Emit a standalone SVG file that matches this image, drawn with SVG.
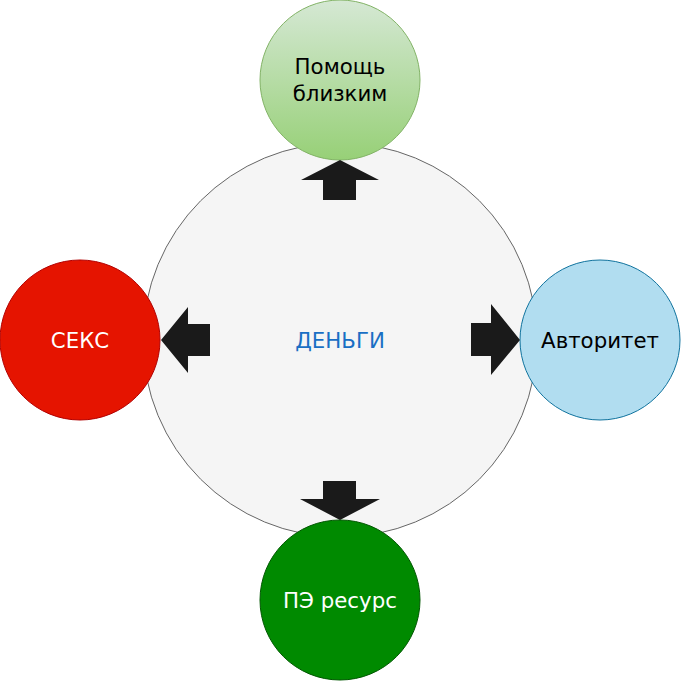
<svg xmlns="http://www.w3.org/2000/svg" width="681" height="681" viewBox="0 0 681 681">
<style>
text{font-family:"DejaVu Sans","Noto Sans",sans-serif;font-size:21.3px;text-anchor:middle}
.arr{fill:#1a1a1a;stroke:none}
</style>
<defs>
<linearGradient id="g1" x1="0" y1="0" x2="0" y2="1">
<stop offset="0" stop-color="#d5e8d4"/>
<stop offset="1" stop-color="#97d077"/>
</linearGradient>
</defs>
<rect width="681" height="681" fill="#ffffff"/>
<g id="money">
<circle cx="340" cy="340" r="197" fill="#f5f5f5" stroke="#666666" stroke-width="1"/>
<text x="340" y="348" fill="#1a6fc4">ДЕНЬГИ</text>
</g>
<g id="help">
<circle cx="340" cy="80" r="80" fill="url(#g1)" stroke="#82b366" stroke-width="1"/>
<text x="340" y="74" fill="#000000">Помощь</text>
<text x="340" y="101" fill="#000000">близким</text>
</g>
<g id="sex">
<circle cx="80" cy="340" r="80" fill="#e51400" stroke="#b20000" stroke-width="1"/>
<text x="80" y="348" fill="#ffffff">СЕКС</text>
</g>
<g id="authority">
<circle cx="600" cy="340" r="80" fill="#b1ddf0" stroke="#10739e" stroke-width="1"/>
<text x="600" y="348" fill="#000000">Авторитет</text>
</g>
<g id="pe">
<circle cx="340" cy="600" r="80" fill="#008a00" stroke="#005700" stroke-width="1"/>
<text x="340" y="608" fill="#ffffff">ПЭ ресурс</text>
</g>
<g id="connectors">
<polygon class="arr" points="340,160 379,180 356,180 356,200 323,200 323,180 301,180"/>
<polygon class="arr" points="161,340 188,307 188,324 210,324 210,356 188,356 188,373"/>
<polygon class="arr" points="520,340 491,304 491,323 471,323 471,356 491,356 491,375"/>
<polygon class="arr" points="340,520 380,499 356,499 356,481 323,481 323,499 300,499"/>
</g>
</svg>
